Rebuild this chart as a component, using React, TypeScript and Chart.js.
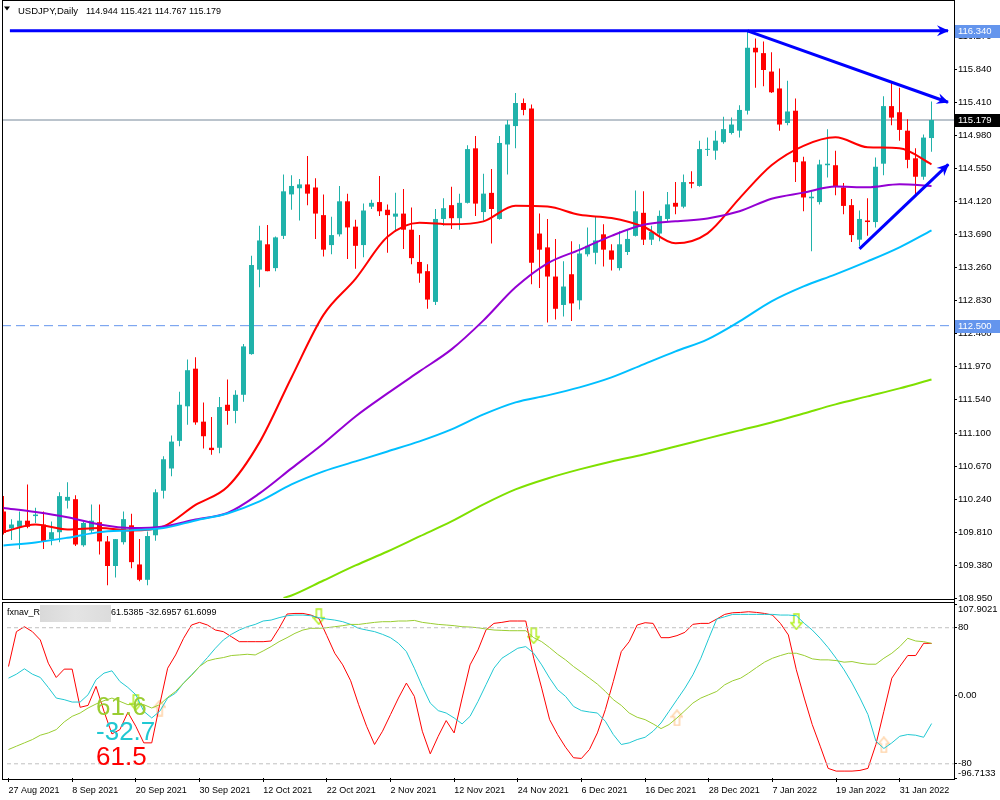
import React, { useEffect, useRef } from "react";
import { Chart, registerables } from "chart.js";

Chart.register(...registerables);

// ---------------- data ----------------
const dateLabels = [
  "27 Aug 2021", "8 Sep 2021", "20 Sep 2021", "30 Sep 2021", "12 Oct 2021",
  "22 Oct 2021", "2 Nov 2021", "12 Nov 2021", "24 Nov 2021", "6 Dec 2021",
  "16 Dec 2021", "28 Dec 2021", "7 Jan 2022", "19 Jan 2022", "31 Jan 2022",
];
const dateTickBars = [0, 8, 16, 24, 32, 40, 48, 56, 64, 72, 80, 88, 96, 104, 112];

const opens = [
  110.08, 109.86, 109.88, 109.96, 110.02, 109.91, 109.72, 109.81, 110.22, 110.24,
  109.64, 109.83, 109.94, 109.69, 109.37, 109.68, 109.90, 109.39, 109.19, 109.77,
  110.35, 110.64, 111.00, 111.45, 111.94, 111.25, 110.91, 110.91, 111.47, 111.39,
  111.60, 112.13, 113.23, 113.56, 113.25, 113.67, 114.21, 114.29, 114.34, 114.30,
  113.94, 113.55, 113.69, 114.12, 113.79, 113.55, 114.05, 114.11, 114.01, 113.92,
  113.96, 113.75, 113.33, 113.21, 112.81, 113.89, 114.07, 113.90, 114.10, 114.81,
  113.98, 114.23, 113.89, 114.86, 115.10, 115.40, 115.33, 113.70, 113.52, 113.14,
  112.77, 113.17, 112.83, 113.43, 113.45, 113.69, 113.48, 113.25, 113.46, 113.67,
  113.97, 113.62, 113.70, 113.89, 114.10, 114.05, 114.37, 114.32, 114.79, 114.78,
  114.89, 115.01, 115.04, 115.30, 116.12, 116.05, 115.81, 115.59, 115.14, 115.30,
  114.64, 114.16, 114.11, 114.59, 114.59, 114.30, 114.07, 113.62, 113.87, 113.85,
  114.61, 115.36, 115.28, 115.04, 114.68, 114.44, 114.944,
];
const highs = [
  110.28, 109.98, 110.08, 110.43, 110.13, 110.08, 109.95, 110.33, 110.46, 110.29,
  109.95, 110.17, 110.17, 109.76, 109.72, 110.08, 110.05, 109.72, 109.82, 110.37,
  110.80, 111.07, 111.64, 112.06, 112.09, 111.50, 111.31, 111.57, 111.80, 111.66,
  112.26, 113.41, 113.80, 113.81, 113.66, 114.47, 114.46, 114.41, 114.71, 114.42,
  114.21, 113.92, 114.32, 114.22, 113.88, 114.09, 114.14, 114.45, 114.08, 114.23,
  114.28, 114.04, 113.68, 113.30, 114.02, 114.16, 114.31, 114.22, 114.85, 114.97,
  114.48, 114.54, 114.97, 115.18, 115.53, 115.46, 115.38, 113.96, 113.89, 113.63,
  113.34, 113.60, 113.56, 113.78, 113.93, 113.82, 113.56, 113.73, 113.76, 114.26,
  114.25, 113.80, 114.00, 114.24, 114.37, 114.47, 114.51, 114.91, 114.95, 115.04,
  115.22, 115.21, 115.37, 116.35, 116.24, 116.20, 116.06, 115.85, 115.69, 115.46,
  114.70, 114.25, 114.66, 115.06, 114.78, 114.36, 114.15, 114.00, 114.16, 114.69,
  115.49, 115.67, 115.60, 115.19, 114.81, 114.99, 115.421,
];
const lows = [
  109.78, 109.71, 109.59, 109.86, 109.93, 109.59, 109.64, 109.68, 110.12, 109.63,
  109.62, 109.80, 109.52, 109.12, 109.22, 109.65, 109.34, 109.17, 109.12, 109.70,
  110.25, 110.54, 110.93, 111.21, 111.21, 110.90, 110.82, 110.84, 111.21, 111.23,
  111.51, 112.12, 113.00, 113.21, 113.21, 113.63, 114.01, 113.87, 114.07, 113.63,
  113.40, 113.43, 113.66, 113.37, 113.24, 113.39, 114.02, 113.93, 113.45, 113.72,
  113.50, 113.30, 113.06, 112.72, 112.77, 113.80, 113.76, 113.75, 114.09, 113.93,
  113.87, 113.57, 113.88, 114.47, 114.81, 115.24, 113.04, 112.99, 112.54, 112.58,
  112.62, 112.56, 112.71, 113.40, 113.30, 113.27, 113.22, 113.22, 113.42, 113.66,
  113.55, 113.55, 113.60, 113.86, 113.95, 114.03, 114.29, 114.31, 114.71, 114.66,
  114.87, 114.99, 114.95, 115.25, 115.60, 115.62, 115.53, 115.04, 115.11, 114.37,
  113.99, 113.47, 114.08, 114.43, 114.20, 113.95, 113.59, 113.53, 113.67, 113.78,
  114.46, 115.11, 114.91, 114.55, 114.19, 114.40, 114.767,
];
const closes = [
  109.80, 109.91, 109.96, 109.88, 110.04, 109.69, 109.81, 110.28, 110.27, 109.65,
  109.93, 109.96, 109.69, 109.37, 109.72, 109.98, 109.42, 109.19, 109.76, 110.33,
  110.76, 110.99, 111.47, 111.92, 111.24, 111.06, 110.88, 111.44, 111.39, 111.60,
  112.23, 113.29, 113.61, 113.21, 113.65, 114.25, 114.32, 114.34, 114.22, 113.96,
  113.49, 113.68, 114.12, 113.78, 113.54, 114.00, 114.10, 113.99, 113.94, 113.96,
  113.75, 113.38, 113.18, 112.84, 113.89, 114.03, 113.90, 114.10, 114.80, 114.09,
  114.22, 114.02, 114.88, 115.12, 115.40, 115.31, 113.32, 113.49, 113.14, 112.72,
  113.01, 112.79, 113.44, 113.54, 113.61, 113.49, 113.36, 113.56, 113.63, 113.99,
  113.62, 113.72, 113.93, 114.08, 114.05, 114.37, 114.35, 114.80, 114.80, 114.91,
  115.06, 115.12, 115.31, 116.12, 116.06, 115.83, 115.54, 115.12, 115.29, 114.63,
  114.17, 114.18, 114.60, 114.61, 114.31, 114.06, 113.68, 113.89, 113.85, 114.57,
  115.36, 115.21, 115.05, 114.66, 114.44, 114.95, 115.179,
];

const maKeys = [0, 4, 8, 12, 16, 20, 24, 28, 32, 36, 40, 44, 48, 52, 56, 60, 64, 68, 72, 76, 80, 84, 88, 92, 96, 100, 104, 108, 112, 116];
const maRed = [
  109.813, 109.911, 109.846, 109.865, 109.833, 109.885, 110.165, 110.402, 110.98, 111.826,
  112.641, 113.11, 113.657, 113.842, 113.82, 113.859, 114.061, 114.051, 113.944, 113.902,
  113.788, 113.573, 113.703, 114.159, 114.589, 114.843, 114.954, 114.824, 114.811, 114.602,
];
const maPurple = [
  110.126, 110.074, 110.005, 109.911, 109.865, 109.885, 109.976, 110.061, 110.315, 110.641,
  110.966, 111.318, 111.618, 111.905, 112.191, 112.569, 112.999, 113.312, 113.488, 113.67,
  113.814, 113.859, 113.895, 113.99, 114.153, 114.233, 114.312, 114.302, 114.341, 114.319,
];
const maBlue = [
  109.637, 109.676, 109.738, 109.811, 109.835, 109.865, 109.963, 110.054, 110.211, 110.432,
  110.602, 110.732, 110.862, 110.993, 111.149, 111.344, 111.501, 111.592, 111.696, 111.826,
  111.996, 112.165, 112.322, 112.556, 112.817, 113.012, 113.169, 113.338, 113.521, 113.742,
];
const maGreenKeys = [35, 36, 40, 44, 48, 52, 56, 60, 64, 68, 72, 76, 80, 84, 88, 92, 96, 100, 104, 108, 112, 116];
const maGreen = [
  108.955, 108.986, 109.181, 109.377, 109.559, 109.755, 109.95, 110.172, 110.367, 110.51,
  110.628, 110.732, 110.823, 110.927, 111.032, 111.136, 111.24, 111.357, 111.475, 111.579,
  111.683, 111.80,
];

const priceTicks = [
  108.95, 109.38, 109.81, 110.24, 110.67, 111.1, 111.54, 111.97, 112.4,
  112.83, 113.26, 113.69, 114.12, 114.55, 114.98, 115.41, 115.84, 116.27,
];

const symbolTitle = "USDJPY,Daily";
const lastBar = "114.944 115.421 114.767 115.179";
const lastPrice = 115.179;
const supportLevel = 112.5;
const resistanceLevel = 116.34;
const trendTop = [{ x: 0.8, y: 116.34 }, { x: 118.06, y: 116.34 }];
const trendDown = [{ x: 93, y: 116.34 }, { x: 118.06, y: 115.41 }];
const trendUp = [{ x: 107, y: 113.5 }, { x: 118.1, y: 114.6 }];

const oscName = "fxnav_R";
const oscValuesText = "61.5385 -32.6957 61.6099";
const oscRed = [
  34.4, 75.4, 81.2, 75.4, 65.6, 38.3, 21.5, 31.3, 31.3, -13.6,
  -11.3, 11.0, -18.3, -44.9, -39.8, -19.5, -35.9, -55.4, -55.4, -10.5,
  32.4, 48.0, 67.6, 83.2, 86.3, 83.2, 77.3, 75.4, 69.5, 63.6,
  63.6, 63.6, 63.6, 64.4, 79.3, 96.1, 96.8, 96.8, 94.9, 91.0,
  70.7, 50.0, 36.3, 17.6, -10.5, -35.9, -57.3, -41.7, -22.2, -2.7,
  14.9, -0.7, -41.7, -68.3, -47.6, -29.2, -43.7, -2.7, 36.3, 53.9,
  77.3, 85.1, 86.3, 87.9, 87.9, 87.9, 44.1, 9.0, -28.1, -45.6,
  -60.5, -72.9, -73.7, -63.2, -43.7, -16.4, 16.8, 51.9, 63.6, 83.2,
  85.9, 85.1, 68.3, 68.3, 70.7, 74.6, 84.0, 85.1, 85.1, 90.2,
  95.7, 97.6, 98.0, 98.8, 98.0, 96.8, 94.9, 85.1, 71.5, 30.5,
  -2.7, -33.9, -59.3, -85.4, -88.6, -88.6, -88.6, -87.8, -85.4, -57.3,
  -18.3, 20.7, 34.4, 47.3, 47.3, 61.7, 61.5385,
];
const oscCyan = [
  20.7, 25.4, 31.7, 25.4, 21.5, 9.8, -2.7, -4.6, -7.4, -7.4,
  1.2, 18.8, 26.6, 29.3, 16.8, 9.8, 1.2, -18.3, -26.1, -18.3,
  -2.7, 3.2, 14.9, 24.6, 34.4, 44.9, 55.9, 65.6, 72.2, 77.3,
  81.2, 83.9, 87.9, 89.0, 91.8, 94.1, 94.9, 94.9, 94.1, 91.8,
  90.2, 89.0, 87.1, 83.9, 79.3, 77.3, 75.4, 72.2, 68.3, 61.7,
  51.9, 32.4, 11.0, -8.6, -17.5, -20.3, -26.1, -33.1, -24.2, -6.6,
  12.9, 32.4, 44.1, 50.0, 55.9, 57.8, 50.0, 36.3, 20.7, 7.1,
  -0.7, -12.5, -17.5, -19.1, -20.3, -30.0, -45.6, -57.3, -55.4, -51.5,
  -48.8, -41.7, -32.0, -18.3, -4.6, 9.0, 24.6, 44.1, 67.6, 90.2,
  92.9, 95.7, 95.7, 95.7, 95.7, 95.7, 95.7, 94.9, 94.9, 94.1,
  85.1, 77.3, 67.6, 56.6, 44.1, 30.5, 14.9, -2.7, -22.2, -53.4,
  -62.0, -55.4, -47.6, -45.6, -46.4, -48.8, -32.6957,
];
const oscGreen = [
  -63.2, -59.3, -55.4, -51.5, -46.4, -43.7, -39.8, -30.8, -24.2, -20.3,
  -14.4, -9.7, -5.8, -2.7, -6.6, -10.5, -9.7, -10.5, -14.4, -10.5,
  -1.9, 5.1, 14.9, 23.8, 34.4, 41.0, 43.4, 44.9, 47.3, 48.0,
  48.8, 48.0, 52.7, 57.8, 63.6, 68.3, 73.4, 77.3, 79.3, 79.3,
  80.0, 81.2, 82.4, 83.9, 83.9, 85.1, 86.3, 87.1, 87.1, 87.9,
  87.9, 88.6, 86.3, 85.1, 83.9, 83.2, 82.4, 81.2, 80.8, 80.0,
  78.5, 77.3, 76.9, 76.5, 76.5, 76.5, 68.3, 63.6, 56.6, 48.8,
  42.2, 34.4, 27.7, 20.7, 13.7, 5.1, -4.6, -11.3, -20.3, -25.3,
  -28.1, -33.1, -38.6, -33.9, -26.1, -17.5, -8.6, -2.7, 1.2, 5.1,
  12.9, 17.6, 20.7, 26.6, 33.2, 39.5, 44.1, 47.3, 50.0, 50.0,
  47.3, 43.4, 42.2, 42.2, 41.4, 39.5, 40.2, 38.3, 37.1, 37.1,
  44.1, 50.0, 57.8, 67.6, 64.4, 63.6, 61.6099,
];
const oscTicks = [107.9021, 80, 0, -80, -96.7133];
const oscTickLabels = ["107.9021", "80", "0.00", "-80", "-96.7133"];
const oscLevels = [80, -80];
const downArrows = [{ x: 16, y: -8 }, { x: 39, y: 93 }, { x: 66, y: 70.5 }, { x: 99, y: 87 }];
const upArrows = [{ x: 19, y: -14.4 }, { x: 84, y: -26 }, { x: 110, y: -57.7 }];
const bigLabels = [
  { text: "61.6", color: "#9ACD32", x: 11.0, y: -22.2 },
  { text: "-32.7", color: "#20C8D2", x: 11.0, y: -51.6 },
  { text: "61.5", color: "#FF0000", x: 11.0, y: -81.0 },
];

// ---------------- styling ----------------
const FONT = "Liberation Sans";
const BULL = "#20B2AA";
const BEAR = "#FF0000";
const XMIN = -0.1875;
const XMAX = 118.8125;

function drawArrowHead(ctx: any, x1: number, y1: number, x2: number, y2: number, color: string) {
  const ang = Math.atan2(y2 - y1, x2 - x1);
  ctx.save();
  ctx.translate(x2, y2);
  ctx.rotate(ang);
  ctx.beginPath();
  ctx.moveTo(1, 0);
  ctx.lineTo(-11, -5.5);
  ctx.lineTo(-7, 0);
  ctx.lineTo(-11, 5.5);
  ctx.closePath();
  ctx.fillStyle = color;
  ctx.fill();
  ctx.restore();
}

function makeArrowImage(dir: string, color: string) {
  const c = document.createElement("canvas");
  c.width = 13;
  c.height = 17;
  const g = c.getContext("2d") as CanvasRenderingContext2D;
  g.strokeStyle = color;
  g.lineWidth = 1.5;
  const pts = [[6.5, 1], [12, 7.5], [9, 7.5], [9, 16], [4, 16], [4, 7.5], [1, 7.5]];
  g.beginPath();
  pts.forEach(([x, y], i) => {
    const yy = dir === "up" ? y : 17 - y;
    if (i === 0) g.moveTo(x, yy);
    else g.lineTo(x, yy);
  });
  g.closePath();
  g.stroke();
  return c;
}

const mainDecor = {
  id: "mainDecor",
  afterDraw(chart: any) {
    const { ctx, scales } = chart;
    const ys = scales.y;
    ctx.save();
    chart.data.datasets.forEach((ds: any, di: number) => {
      if (!ds.arrow) return;
      const pts = chart.getDatasetMeta(di).data;
      const a = pts[pts.length - 2];
      const b = pts[pts.length - 1];
      drawArrowHead(ctx, a.x, a.y, b.x, b.y, ds.borderColor);
    });
    // frame
    ctx.fillStyle = "#000";
    ctx.fillRect(2, 0, 952, 1);
    ctx.fillRect(2, 0, 1, 600);
    ctx.fillRect(2, 599, 952, 1);
    ctx.fillRect(954, 0, 1, 610);
    // header
    ctx.beginPath();
    ctx.moveTo(4, 6.5);
    ctx.lineTo(10, 6.5);
    ctx.lineTo(7, 10.5);
    ctx.closePath();
    ctx.fill();
    ctx.font = `9.5px ${FONT}`;
    ctx.textBaseline = "alphabetic";
    ctx.fillText(symbolTitle, 18, 13.5);
    ctx.font = `9px ${FONT}`;
    ctx.fillText(lastBar, 86, 13.5);
    // price tags
    const tags: any[] = [[resistanceLevel, "#6495ED"], [lastPrice, "#000000"], [supportLevel, "#6495ED"]];
    for (const [v, c] of tags) {
      const y = Math.round(ys.getPixelForValue(v));
      ctx.fillStyle = c;
      ctx.fillRect(955, y - 6, 45, 13);
      ctx.fillStyle = "#fff";
      ctx.font = `9.5px ${FONT}`;
      ctx.textBaseline = "middle";
      ctx.fillText(v.toFixed(3), 958, y + 0.5);
    }
    ctx.restore();
  },
};

const oscDecor = {
  id: "oscDecor",
  beforeDraw(chart: any) {
    // keep the extreme scale labels inside the panel, as the terminal does
    const s = chart.scales.y;
    if (s && typeof s.getLabelItems === "function") {
      const items = s.getLabelItems();
      if (items.length === oscTicks.length && !items._shifted) {
        items[0].options.translation[1] += 5;
        items[items.length - 1].options.translation[1] -= 5;
        items._shifted = true;
      }
    }
  },
  afterDraw(chart: any) {
    const { ctx, scales } = chart;
    const xs = scales.x;
    const ys = scales.y;
    ctx.save();
    ctx.fillStyle = "#000";
    ctx.fillRect(2, 12, 952, 1);
    ctx.fillRect(2, 189, 952, 1);
    ctx.fillRect(2, 12, 1, 178);
    ctx.fillRect(954, 0, 1, 190);
    ctx.font = `9px ${FONT}`;
    ctx.textBaseline = "alphabetic";
    ctx.fillText(oscName, 7, 25);
    const g = ctx.createLinearGradient(40, 0, 111, 0);
    g.addColorStop(0, "#d9d9d9");
    g.addColorStop(0.5, "#e4e4e4");
    g.addColorStop(1, "#dcdcdc");
    ctx.fillStyle = g;
    ctx.fillRect(40, 15, 71, 17);
    ctx.fillStyle = "#000";
    ctx.fillText(oscValuesText, 111, 25);
    ctx.font = `26px ${FONT}`;
    for (const lb of bigLabels) {
      ctx.fillStyle = lb.color;
      ctx.fillText(lb.text, xs.getPixelForValue(lb.x), ys.getPixelForValue(lb.y));
    }
    ctx.restore();
  },
};

export default function App() {
  const mainRef = useRef<HTMLCanvasElement | null>(null);
  const oscRef = useRef<HTMLCanvasElement | null>(null);

  useEffect(() => {
    Chart.defaults.font.family = FONT;
    const idx = opens.map((_, i) => i);
    const colorOf = (i: number) => (closes[i] >= opens[i] ? BULL : BEAR);
    const wickData = idx.map((i) => ({ x: i, y: [lows[i], highs[i]] }));
    const bodyData = idx.map((i) => ({ x: i, y: [opens[i], closes[i]] }));
    const pts = (keys: number[], vals: number[]) => keys.map((k, i) => ({ x: k, y: vals[i] }));
    const flat = (v: number) => [{ x: XMIN, y: v }, { x: XMAX, y: v }];
    const maLine = (data: any[], color: string) => ({
      type: "line",
      data,
      borderColor: color,
      borderWidth: 2,
      pointRadius: 0,
      cubicInterpolationMode: "monotone",
      order: 5,
    });
    const trend = (data: any[]) => ({
      type: "line",
      data,
      borderColor: "#0000FF",
      borderWidth: 3,
      pointRadius: 0,
      order: 0,
      arrow: true,
    });

    const main = new Chart(mainRef.current as HTMLCanvasElement, {
      type: "bar",
      data: {
        datasets: [
          { type: "line", data: flat(lastPrice), borderColor: "#778899", borderWidth: 1, pointRadius: 0, order: 30 },
          { type: "line", data: flat(supportLevel), borderColor: "#6495ED", borderWidth: 1, borderDash: [9, 5], pointRadius: 0, order: 30 },
          { type: "bar", data: wickData, backgroundColor: (c: any) => colorOf(c.dataIndex), barThickness: 1, grouped: false, inflateAmount: 0, borderWidth: 0, order: 20 },
          { type: "bar", data: bodyData, backgroundColor: (c: any) => colorOf(c.dataIndex), barThickness: 5, grouped: false, inflateAmount: 0, borderWidth: 0, minBarLength: 1, order: 19 },
          maLine(pts(maKeys, maBlue), "#00BFFF"),
          maLine(pts(maGreenKeys, maGreen), "#7FE000"),
          maLine(pts(maKeys, maPurple), "#9400D3"),
          maLine(pts(maKeys, maRed), "#FF0000"),
          trend(trendTop),
          trend(trendDown),
          trend(trendUp),
        ] as any,
      },
      options: {
        animation: false,
        responsive: false,
        maintainAspectRatio: false,
        events: [],
        layout: { padding: { left: 2, top: 2, right: 0, bottom: 12 } },
        plugins: { legend: { display: false }, tooltip: { enabled: false } },
        scales: {
          x: { type: "linear", display: false, min: XMIN, max: XMAX, offset: false },
          y: {
            position: "right",
            min: 108.953,
            max: 116.716,
            afterFit: (s: any) => { s.width = 46; s.paddingTop = 0; s.paddingBottom = 0; },
            afterBuildTicks: (s: any) => { s.ticks = priceTicks.map((v) => ({ value: v })); },
            ticks: { callback: (v: any) => Number(v).toFixed(3), color: "#000", font: { size: 9.5, family: FONT }, padding: 1, autoSkip: false },
            grid: { drawOnChartArea: false, tickLength: 3, color: "#000", tickColor: "#000" },
            border: { display: false },
          },
        },
      } as any,
      plugins: [mainDecor],
    });

    const osc = new Chart(oscRef.current as HTMLCanvasElement, {
      type: "line",
      data: {
        datasets: [
          ...oscLevels.map((v) => ({ data: flat(v), borderColor: "#C0C0C0", borderWidth: 1, borderDash: [4, 3], pointRadius: 0 })),
          { data: pts(idx, oscGreen), borderColor: "#9ACD32", borderWidth: 1, pointRadius: 0 },
          { data: pts(idx, oscCyan), borderColor: "#20C8D2", borderWidth: 1, pointRadius: 0 },
          { data: pts(idx, oscRed), borderColor: "#FF0000", borderWidth: 1, pointRadius: 0 },
          { data: downArrows, showLine: false, pointStyle: makeArrowImage("down", "#B4F020"), pointRadius: 6 },
          { data: upArrows, showLine: false, pointStyle: makeArrowImage("up", "#FFD4A8"), pointRadius: 6 },
        ] as any,
      },
      options: {
        animation: false,
        responsive: false,
        maintainAspectRatio: false,
        events: [],
        layout: { padding: { left: 2, top: 14, right: 0, bottom: 0 } },
        plugins: { legend: { display: false }, tooltip: { enabled: false } },
        scales: {
          x: {
            type: "linear",
            min: XMIN,
            max: XMAX,
            offset: false,
            afterFit: (s: any) => { s.height = 22; s.paddingLeft = 0; s.paddingRight = 0; },
            afterBuildTicks: (s: any) => { s.ticks = dateTickBars.map((v) => ({ value: v })); },
            ticks: { callback: (_v: any, i: number) => dateLabels[i], align: "start", maxRotation: 0, autoSkip: false, color: "#000", font: { size: 9, family: FONT }, padding: 3 },
            grid: { drawOnChartArea: false, tickLength: 4, color: "#000", tickColor: "#000" },
            border: { display: false },
          },
          y: {
            position: "right",
            min: -96.7133,
            max: 107.9021,
            afterFit: (s: any) => { s.width = 46; s.paddingTop = 0; s.paddingBottom = 0; },
            afterBuildTicks: (s: any) => { s.ticks = oscTicks.map((v) => ({ value: v })); },
            ticks: { callback: (_v: any, i: number) => oscTickLabels[i], color: "#000", font: { size: 9.5, family: FONT }, padding: 1, autoSkip: false },
            grid: { drawOnChartArea: false, tickLength: 3, color: "#000", tickColor: "#000" },
            border: { display: false },
          },
        },
      } as any,
      plugins: [oscDecor],
    });

    return () => {
      main.destroy();
      osc.destroy();
    };
  }, []);

  return (
    <div style={{ position: "absolute", left: 0, top: 0, width: 1000, height: 800, background: "#fff", overflow: "hidden" }}>
      <canvas ref={mainRef} width={1000} height={610} style={{ position: "absolute", left: 0, top: 0, width: 1000, height: 610 }} />
      <canvas ref={oscRef} width={1000} height={210} style={{ position: "absolute", left: 0, top: 590, width: 1000, height: 210 }} />
    </div>
  );
}
